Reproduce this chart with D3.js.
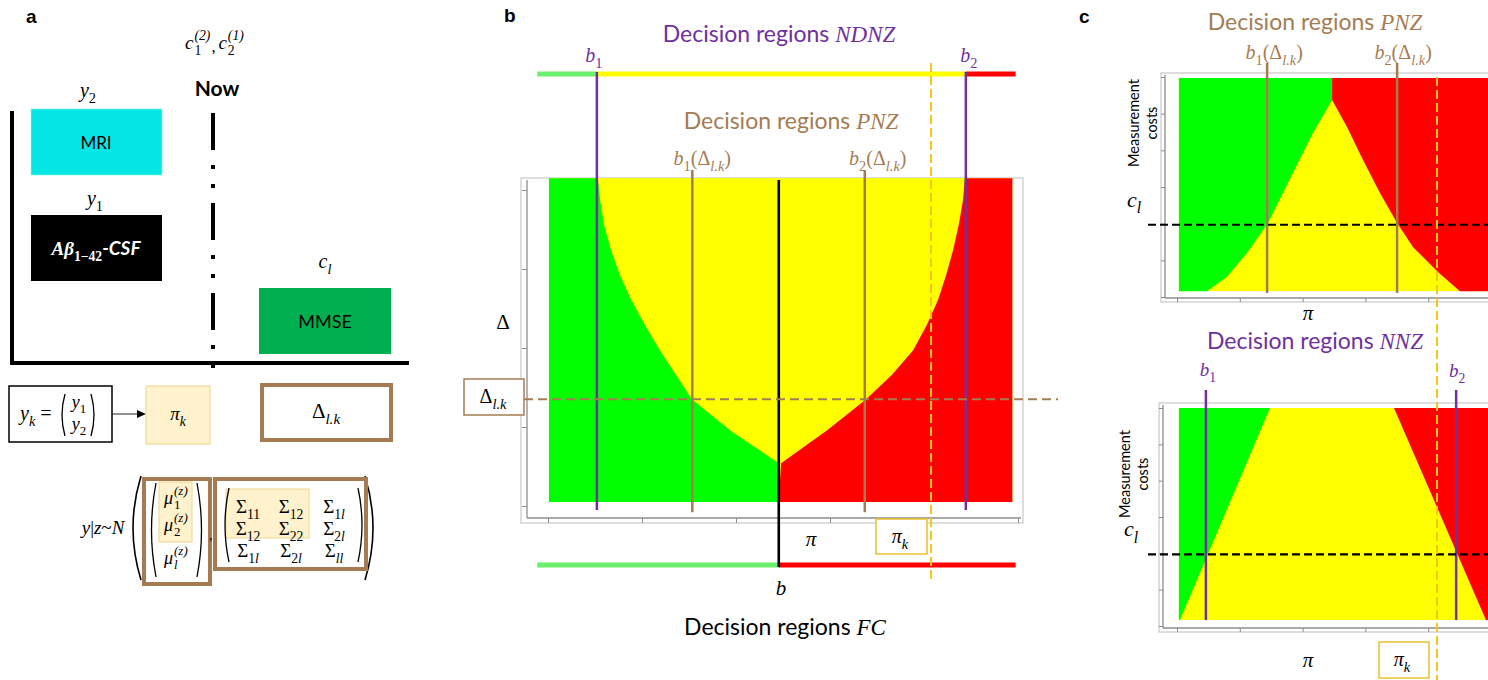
<!DOCTYPE html>
<html>
<head>
<meta charset="utf-8">
<script src="https://cdn.jsdelivr.net/npm/d3@7"></script>
<style>
  body { margin: 0; background: #fff; }
  svg { display: block; }
</style>
</head>
<body>
<svg id="fig" width="1488" height="680"></svg>
<script>
// ---- values ----
// panel b : pi on x, Delta on y
const piTicks = [0, 0.2, 0.4, 0.6, 0.8, 1];
const deltaTicks = [0, 1, 2, 3, 4];
const fcPiRange = [0.002, 0.988];
const fcDeltaRange = [0.05, 4.15];
const barPiRange = [-0.023, 0.995];
const bFC = 0.491;
const ndnzB = [0.104, 0.889];
const pnzB = [0.307, 0.674];
const deltaLk = 1.35;
const piK = 0.815;
// green / yellow edge, top to tip (pi, Delta)
const pnzLeftEdge = [[0.106, 4.15], [0.111, 3.87], [0.119, 3.56], [0.134, 3.24], [0.153, 2.92], [0.177, 2.61],
  [0.206, 2.29], [0.238, 1.97], [0.272, 1.66], [0.306, 1.35], [0.387, 0.96], [0.491, 0.54]];
// yellow / red edge, top to tip
const pnzRightEdge = [[0.887, 4.15], [0.883, 3.87], [0.874, 3.56], [0.862, 3.24], [0.847, 2.92], [0.830, 2.61],
  [0.806, 2.29], [0.777, 1.97], [0.732, 1.66], [0.677, 1.35], [0.594, 0.96], [0.496, 0.54]];

// panel c : pi on x, measurement costs on y
const costTicks = [0, 1, 2, 3, 4, 5, 6];
const cPiRange = [0.006, 1.0];
const costRangeTop = [0.16, 5.97];
const costRangeBot = [0.165, 6.0];
const costL = 1.97;
const piKc = 0.828;
const pnzBc = [0.287, 0.701];
const nnzB = [0.092, 0.889];
const costLeftEdge = [[0.494, 5.37], [0.433, 4.47], [0.369, 3.38], [0.290, 2.02], [0.223, 1.20], [0.159, 0.55], [0.096, 0.16]];
const costRightEdge = [[0.494, 5.37], [0.541, 4.64], [0.592, 3.74], [0.646, 2.84], [0.701, 2.02], [0.752, 1.36], [0.831, 0.68], [0.901, 0.16]];
const nnzGreenEdge = [[0.296, 6.0], [0.0096, 0.165]];
const nnzRedEdge = [[0.691, 6.0], [0.984, 0.165]];

// panel a : covariance matrix subscripts
const sigmaSubs = [['11', '12', '1l'], ['12', '22', '2l'], ['1l', '2l', 'll']];

// ---- styles ----
const SERIF = "'Liberation Serif','DejaVu Serif',serif";
const SANS = "Lato,'Open Sans','Noto Sans',sans-serif";
const COL = {
  green: '#00FF00', yellow: '#FFFF00', red: '#FF0000', barGreen: '#6CEF6C',
  purple: '#7030A0', brown: '#A57C52', gold: '#F5C518', frame: '#C8C8C8', axis: '#8C8C8C',
  beige: '#FFF2CC', beigeLine: '#EFD48A', cyan: '#05E6E6', mmse: '#00B050'
};

const svg = d3.select('#fig');

// text with sub / superscript parts: [text, flags, family]
function mtext(g, x, y, parts, o) {
  o = o || {};
  var size = o.size || 20;
  var t = g.append('text').attr('x', x).attr('y', y)
    .attr('text-anchor', o.anchor || 'middle')
    .attr('font-family', o.family || SERIF)
    .attr('font-size', size)
    .attr('fill', o.color || '#000');
  var shift = 0;
  parts.forEach(function (p) {
    var st = p[1] || '';
    var target = st.indexOf('s') >= 0 ? size * 0.3 : (st.indexOf('p') >= 0 ? -size * 0.42 : 0);
    var ts = t.append('tspan').text(p[0]).attr('dy', target - shift);
    shift = target;
    if (st.indexOf('s') >= 0 || st.indexOf('p') >= 0) ts.attr('font-size', size * 0.72);
    if (st.indexOf('i') >= 0) ts.attr('font-style', 'italic');
    if (st.indexOf('b') >= 0) ts.attr('font-weight', 'bold');
    if (p[2]) ts.attr('font-family', p[2]);
  });
  return t;
}

// base with stacked sub and sup, returns the right end
function subsup(g, x, y, base, sub, sup, size, color) {
  color = color || '#000';
  var b = g.append('text').attr('x', x).attr('y', y).attr('font-family', SERIF)
    .attr('font-style', 'italic').attr('font-size', size).attr('fill', color).text(base);
  var w = b.node().getComputedTextLength();
  var s1 = g.append('text').attr('x', x + w + 1).attr('y', y + size * 0.3).attr('font-family', SERIF)
    .attr('font-style', sub.it ? 'italic' : 'normal').attr('font-size', size * 0.72).attr('fill', color).text(sub.t);
  var s2 = g.append('text').attr('x', x + w + 1).attr('y', y - size * 0.5).attr('font-family', SERIF)
    .attr('font-style', 'italic').attr('font-size', size * 0.72).attr('fill', color).text(sup);
  return x + w + 1 + Math.max(s1.node().getComputedTextLength(), s2.node().getComputedTextLength());
}

function paren(g, x, y0, y1, dir, bulge, w) {
  var m = (y0 + y1) / 2;
  g.append('path')
    .attr('d', 'M' + x + ',' + y0 + ' Q' + (x - dir * bulge) + ',' + m + ' ' + x + ',' + y1)
    .attr('fill', 'none').attr('stroke', '#000').attr('stroke-width', w || 1.3);
}

function panelLetter(x, y, t) {
  svg.append('text').attr('x', x).attr('y', y).attr('font-family', "'Liberation Sans',Arial,sans-serif")
    .attr('font-weight', 'bold').attr('font-size', 19).text(t);
}

// ================= panel a =================
const A = svg.append('g');
panelLetter(26, 23, 'a');

A.append('line').attr('x1', 12).attr('y1', 111).attr('x2', 12).attr('y2', 365)
  .attr('stroke', '#000').attr('stroke-width', 4);
A.append('line').attr('x1', 10).attr('y1', 363).attr('x2', 409).attr('y2', 363)
  .attr('stroke', '#000').attr('stroke-width', 4);
A.append('line').attr('x1', 213).attr('y1', 113).attr('x2', 213).attr('y2', 372)
  .attr('stroke', '#000').attr('stroke-width', 4).attr('stroke-dasharray', '37,15,4,15,4,15');

A.append('rect').attr('x', 31).attr('y', 109).attr('width', 131).attr('height', 66).attr('fill', COL.cyan)
  .attr('stroke', '#8fd').attr('stroke-width', 0.6);
A.append('text').attr('x', 96).attr('y', 149).attr('text-anchor', 'middle').attr('font-family', SANS)
  .attr('font-size', 17).text('MRI');
A.append('rect').attr('x', 31).attr('y', 215).attr('width', 131).attr('height', 66).attr('fill', '#000');
mtext(A, 96, 255, [['Aβ', 'ib'], ['1−42', 'sb'], ['-CSF', 'ib', SANS]], { size: 19, color: '#fff' });
A.append('rect').attr('x', 259).attr('y', 288).attr('width', 132).attr('height', 66).attr('fill', COL.mmse);
A.append('text').attr('x', 325).attr('y', 328).attr('text-anchor', 'middle').attr('font-family', SANS)
  .attr('font-size', 18).text('MMSE');

mtext(A, 88, 97, [['y', 'i'], ['2', 's']], { size: 20 });
mtext(A, 95, 205, [['y', 'i'], ['1', 's']], { size: 20 });
mtext(A, 325, 268, [['c', 'i'], ['l', 'si']], { size: 20 });
A.append('text').attr('x', 217).attr('y', 96).attr('text-anchor', 'middle').attr('font-family', SANS)
  .attr('font-weight', 'bold').attr('font-size', 21).text('Now');
var cx = subsup(A, 185, 49, 'c', { t: '1' }, '(2)', 19);
A.append('text').attr('x', cx + 1).attr('y', 52).attr('font-family', SERIF).attr('font-size', 17).text(',');
subsup(A, cx + 8, 49, 'c', { t: '2' }, '(1)', 19);

// y_k box and arrow
A.append('rect').attr('x', 9).attr('y', 386).attr('width', 103).attr('height', 56)
  .attr('fill', '#fff').attr('stroke', '#000').attr('stroke-width', 1.5);
mtext(A, 20, 420, [['y', 'i'], ['k', 'si'], [' =', '']], { size: 20, anchor: 'start' });
paren(A, 65, 394, 436, 1, 6);
paren(A, 91, 394, 436, -1, 6);
mtext(A, 79, 408, [['y', 'i'], ['1', 's']], { size: 18 });
mtext(A, 79, 430, [['y', 'i'], ['2', 's']], { size: 18 });
A.append('line').attr('x1', 112).attr('y1', 414).attr('x2', 139).attr('y2', 414).attr('stroke', '#222').attr('stroke-width', 1);
A.append('path').attr('d', 'M146,414 L137,410 L137,418 Z').attr('fill', '#000');
A.append('rect').attr('x', 146).attr('y', 386).attr('width', 64).attr('height', 58)
  .attr('fill', COL.beige).attr('stroke', COL.beigeLine).attr('stroke-width', 1);
mtext(A, 178, 420, [['π', 'i'], ['k', 'si']], { size: 19 });
A.append('rect').attr('x', 262).attr('y', 385).attr('width', 129).attr('height', 55)
  .attr('fill', '#fff').attr('stroke', COL.brown).attr('stroke-width', 4);
mtext(A, 326, 418, [['Δ', ''], ['l.k', 'si']], { size: 21 });

// distribution formula
mtext(A, 103, 534, [['y', 'i'], ['|', ''], ['z', 'i'], ['~', ''], ['N', 'i']], { size: 19 });
paren(A, 141, 476, 580, 1, 16, 1.6);
paren(A, 365, 476, 580, -1, 16, 1.6);
A.append('rect').attr('x', 144).attr('y', 479).attr('width', 66).attr('height', 105)
  .attr('fill', 'none').attr('stroke', COL.brown).attr('stroke-width', 4);
A.append('rect').attr('x', 159).attr('y', 482).attr('width', 33).attr('height', 60)
  .attr('fill', COL.beige).attr('stroke', COL.beigeLine).attr('stroke-width', 1);
paren(A, 156, 483, 577, 1, 9);
paren(A, 197, 483, 577, -1, 9);
subsup(A, 164, 504, 'μ', { t: '1' }, '(z)', 18);
subsup(A, 164, 531, 'μ', { t: '2' }, '(z)', 18);
subsup(A, 164, 564, 'μ', { t: 'l', it: true }, '(z)', 18);
A.append('text').attr('x', 209).attr('y', 540).attr('font-family', SERIF).attr('font-size', 14).text(',');
A.append('rect').attr('x', 215).attr('y', 479).attr('width', 151).attr('height', 90)
  .attr('fill', 'none').attr('stroke', COL.brown).attr('stroke-width', 4);
A.append('rect').attr('x', 226).attr('y', 489).attr('width', 83).attr('height', 49)
  .attr('fill', COL.beige).attr('stroke', COL.beigeLine).attr('stroke-width', 1);
paren(A, 229, 488, 562, 1, 8);
paren(A, 358, 488, 562, -1, 8);
sigmaSubs.forEach(function (row, r) {
  row.forEach(function (sub, c) {
    var parts = [['Σ', '']];
    sub.split('').forEach(function (ch) { parts.push([ch, ch === 'l' ? 'si' : 's']); });
    mtext(A, 248 + c * 43, 513 + r * 22, parts, { size: 19 });
  });
});

// ================= panel b =================
const B = svg.append('g');
panelLetter(504, 22, 'b');
const xB = d3.scaleLinear().domain([0, 1]).range([548, 1018]);
const yB = d3.scaleLinear().domain([0, 4]).range([506, 190]);
const lineB = d3.line().x(d => xB(d[0])).y(d => yB(d[1]));

B.append('rect').attr('x', 521).attr('y', 178).attr('width', 502).attr('height', 345)
  .attr('fill', '#fff').attr('stroke', COL.frame).attr('stroke-width', 1.2);
B.append('g').attr('transform', 'translate(0,518)')
  .call(d3.axisBottom(xB).tickValues(piTicks).tickSize(5).tickSizeOuter(0).tickFormat(''))
  .call(g => g.select('.domain').remove())
  .selectAll('line').attr('stroke', COL.axis);
B.append('g').attr('transform', 'translate(527,0)')
  .call(d3.axisLeft(yB).tickValues(deltaTicks).tickSize(5).tickSizeOuter(0).tickFormat(''))
  .call(g => g.select('.domain').remove())
  .selectAll('line').attr('stroke', COL.axis);
B.append('line').attr('x1', 527).attr('y1', 180).attr('x2', 527).attr('y2', 518).attr('stroke', COL.axis).attr('stroke-width', 1.3);
B.append('line').attr('x1', 527).attr('y1', 518).attr('x2', 1021).attr('y2', 518).attr('stroke', COL.axis).attr('stroke-width', 1.3);

// regions
B.append('rect').attr('x', xB(fcPiRange[0])).attr('y', yB(fcDeltaRange[1]))
  .attr('width', xB(fcPiRange[1]) - xB(fcPiRange[0])).attr('height', yB(fcDeltaRange[0]) - yB(fcDeltaRange[1]))
  .attr('fill', COL.yellow);
const greenB = [[fcPiRange[0], fcDeltaRange[0]], [fcPiRange[0], fcDeltaRange[1]]].concat(pnzLeftEdge, [[bFC, fcDeltaRange[0]]]);
const redB = [[fcPiRange[1], fcDeltaRange[0]], [fcPiRange[1], fcDeltaRange[1]]].concat(pnzRightEdge, [[bFC, fcDeltaRange[0]]]);
B.append('path').attr('d', lineB(greenB) + 'Z').attr('fill', COL.green);
B.append('path').attr('d', lineB(redB) + 'Z').attr('fill', COL.red);

// NDNZ bar on top, FC bar below
const ndnzSegs = [[barPiRange[0], ndnzB[0], COL.barGreen], [ndnzB[0], ndnzB[1], COL.yellow], [ndnzB[1], barPiRange[1], COL.red]];
B.selectAll('.ndnz').data(ndnzSegs).join('line')
  .attr('x1', d => xB(d[0])).attr('x2', d => xB(d[1])).attr('y1', 74).attr('y2', 74)
  .attr('stroke', d => d[2]).attr('stroke-width', 5);
const fcSegs = [[barPiRange[0], bFC, COL.barGreen], [bFC, barPiRange[1], COL.red]];
B.selectAll('.fc').data(fcSegs).join('line')
  .attr('x1', d => xB(d[0])).attr('x2', d => xB(d[1])).attr('y1', 565).attr('y2', 565)
  .attr('stroke', d => d[2]).attr('stroke-width', 5);

// threshold lines
B.selectAll('.pnzb').data(pnzB).join('line')
  .attr('x1', d => xB(d)).attr('x2', d => xB(d)).attr('y1', 170).attr('y2', yB(-0.08))
  .attr('stroke', COL.brown).attr('stroke-width', 2.5);
B.selectAll('.ndnzb').data(ndnzB).join('line')
  .attr('x1', d => xB(d)).attr('x2', d => xB(d)).attr('y1', 72).attr('y2', yB(-0.05))
  .attr('stroke', COL.purple).attr('stroke-width', 2.5);
B.append('line').attr('x1', xB(bFC)).attr('x2', xB(bFC)).attr('y1', 180).attr('y2', 567)
  .attr('stroke', '#000').attr('stroke-width', 2.6);
B.append('line').attr('x1', 524).attr('x2', 1058).attr('y1', yB(deltaLk)).attr('y2', yB(deltaLk))
  .attr('stroke', COL.brown).attr('stroke-width', 2).attr('stroke-dasharray', '9,5');
B.append('line').attr('x1', xB(piK)).attr('x2', xB(piK)).attr('y1', 63).attr('y2', 580)
  .attr('stroke', COL.gold).attr('stroke-width', 2).attr('stroke-dasharray', '9,4');

// labels
mtext(B, 779, 42, [['Decision regions ', '', SANS], ['NDNZ', 'i']], { size: 23, color: COL.purple });
mtext(B, 791, 129, [['Decision regions ', '', SANS], ['PNZ', 'i']], { size: 23, color: COL.brown });
mtext(B, 785, 635, [['Decision regions ', '', SANS], ['FC', 'i']], { size: 23 });
mtext(B, xB(ndnzB[0]) - 3, 62, [['b', 'i'], ['1', 's']], { size: 20, color: COL.purple });
mtext(B, xB(ndnzB[1]) + 3, 62, [['b', 'i'], ['2', 's']], { size: 20, color: COL.purple });
mtext(B, xB(pnzB[0]) + 10, 165, [['b', 'i'], ['1', 's'], ['(Δ', ''], ['l.k', 'si'], [')', '']], { size: 20, color: COL.brown });
mtext(B, xB(pnzB[1]) + 13, 165, [['b', 'i'], ['2', 's'], ['(Δ', ''], ['l.k', 'si'], [')', '']], { size: 20, color: COL.brown });
mtext(B, 503, 329, [['Δ', '']], { size: 21 });
B.append('rect').attr('x', 464).attr('y', 379).attr('width', 60).attr('height', 36)
  .attr('fill', '#fff').attr('stroke', COL.brown).attr('stroke-width', 1.5);
mtext(B, 493, 403, [['Δ', ''], ['l.k', 'si']], { size: 20 });
mtext(B, 811, 546, [['π', 'i']], { size: 21 });
B.append('rect').attr('x', 876).attr('y', 519).attr('width', 51).attr('height', 35)
  .attr('fill', '#fff').attr('stroke', '#E8C228').attr('stroke-width', 1.5);
mtext(B, 900, 543, [['π', 'i'], ['k', 'si']], { size: 20 });
mtext(B, 781, 595, [['b', 'i']], { size: 21 });

// ================= panel c =================
const C = svg.append('g');
panelLetter(1079, 23, 'c');
const xC = d3.scaleLinear().domain([0, 1]).range([1177, 1491]);

function costPanel(yScale, top, frameX, costRange, drawRegions, label, lines, lineCol) {
  const ln = d3.line().x(d => xC(d[0])).y(d => yScale(d[1]));
  const g = C.append('g');
  g.append('rect').attr('x', frameX).attr('y', top).attr('width', 400).attr('height', 229)
    .attr('fill', '#fff').attr('stroke', COL.frame).attr('stroke-width', 1.2);
  const axX = frameX + 4, axY = top + 225;
  g.append('g').attr('transform', 'translate(0,' + axY + ')')
    .call(d3.axisBottom(xC).tickValues(piTicks).tickSize(4).tickSizeOuter(0).tickFormat(''))
    .call(s => s.select('.domain').remove())
    .selectAll('line').attr('stroke', COL.axis);
  g.append('g').attr('transform', 'translate(' + axX + ',0)')
    .call(d3.axisLeft(yScale).tickValues(costTicks).tickSize(4).tickSizeOuter(0).tickFormat(''))
    .call(s => s.select('.domain').remove())
    .selectAll('line').attr('stroke', COL.axis);
  g.append('line').attr('x1', axX).attr('x2', axX).attr('y1', top + 2).attr('y2', axY).attr('stroke', COL.axis).attr('stroke-width', 1.3);
  g.append('line').attr('x1', axX).attr('x2', 1488).attr('y1', axY).attr('y2', axY).attr('stroke', COL.axis).attr('stroke-width', 1.3);

  g.append('rect').attr('x', xC(cPiRange[0])).attr('y', yScale(costRange[1]))
    .attr('width', xC(cPiRange[1]) - xC(cPiRange[0])).attr('height', yScale(costRange[0]) - yScale(costRange[1]))
    .attr('fill', COL.yellow);
  drawRegions(g, ln);

  g.selectAll('.thr').data(lines.values).join('line')
    .attr('x1', d => xC(d)).attr('x2', d => xC(d)).attr('y1', lines.y0).attr('y2', lines.y1)
    .attr('stroke', lineCol).attr('stroke-width', 2.5);
  g.append('line').attr('x1', 1148).attr('x2', 1488).attr('y1', yScale(costL)).attr('y2', yScale(costL))
    .attr('stroke', '#000').attr('stroke-width', 2.2).attr('stroke-dasharray', '8,4');

  // axis titles
  g.append('text').attr('transform', 'translate(' + label.x + ',' + label.y + ') rotate(-90)')
    .attr('text-anchor', 'middle').attr('font-family', SANS).attr('font-size', 14.5).text('Measurement');
  g.append('text').attr('transform', 'translate(' + (label.x + 18) + ',' + label.y + ') rotate(-90)')
    .attr('text-anchor', 'middle').attr('font-family', SANS).attr('font-size', 14.5).text('costs');
  mtext(g, label.cx, yScale(costL) - 18, [['c', 'i'], ['l', 'si']], { size: 22 });
  return g;
}

const yCt = d3.scaleLinear().domain([0, 6]).range([297, 77]);
const yCb = d3.scaleLinear().domain([0, 6]).range([626, 408]);

costPanel(yCt, 73, 1161, costRangeTop, function (g, ln) {
  const apex = costLeftEdge[0];
  const green = [[cPiRange[0], costRangeTop[0]], [cPiRange[0], costRangeTop[1]], [apex[0], costRangeTop[1]]].concat(costLeftEdge);
  const red = [[cPiRange[1], costRangeTop[0]], [cPiRange[1], costRangeTop[1]], [apex[0], costRangeTop[1]]].concat(costRightEdge);
  g.append('path').attr('d', ln(green) + 'Z').attr('fill', COL.green);
  g.append('path').attr('d', ln(red) + 'Z').attr('fill', COL.red);
}, { x: 1139, y: 123, cx: 1134 }, { values: pnzBc, y0: 63, y1: 293 }, COL.brown);

costPanel(yCb, 403, 1159, costRangeBot, function (g, ln) {
  const green = [[cPiRange[0], costRangeBot[0]], [cPiRange[0], costRangeBot[1]]].concat(nnzGreenEdge);
  const red = [[cPiRange[1], costRangeBot[0]], [cPiRange[1], costRangeBot[1]]].concat(nnzRedEdge);
  g.append('path').attr('d', ln(green) + 'Z').attr('fill', COL.green);
  g.append('path').attr('d', ln(red) + 'Z').attr('fill', COL.red);
}, { x: 1130, y: 474, cx: 1131 }, { values: nnzB, y0: 390, y1: 620 }, COL.purple);

C.append('line').attr('x1', xC(piKc)).attr('x2', xC(piKc)).attr('y1', 77).attr('y2', 680)
  .attr('stroke', COL.gold).attr('stroke-width', 2).attr('stroke-dasharray', '9,4');

mtext(C, 1315, 30, [['Decision regions ', '', SANS], ['PNZ', 'i']], { size: 23, color: COL.brown });
mtext(C, 1315, 349, [['Decision regions ', '', SANS], ['NNZ', 'i']], { size: 23, color: COL.purple });
mtext(C, xC(pnzBc[0]) + 7, 59, [['b', 'i'], ['1', 's'], ['(Δ', ''], ['l.k', 'si'], [')', '']], { size: 20, color: COL.brown });
mtext(C, xC(pnzBc[1]) + 6, 59, [['b', 'i'], ['2', 's'], ['(Δ', ''], ['l.k', 'si'], [')', '']], { size: 20, color: COL.brown });
mtext(C, xC(nnzB[0]) + 2, 376, [['b', 'i'], ['1', 's']], { size: 19, color: COL.purple });
mtext(C, xC(nnzB[1]) + 1, 377, [['b', 'i'], ['2', 's']], { size: 19, color: COL.purple });
mtext(C, 1308, 320, [['π', 'i']], { size: 21 });
mtext(C, 1308, 667, [['π', 'i']], { size: 21 });
C.append('rect').attr('x', 1379).attr('y', 642).attr('width', 50).attr('height', 36)
  .attr('fill', '#fff').attr('stroke', '#E8C228').attr('stroke-width', 1.5);
mtext(C, 1402, 666, [['π', 'i'], ['k', 'si']], { size: 20 });
</script>
</body>
</html>
